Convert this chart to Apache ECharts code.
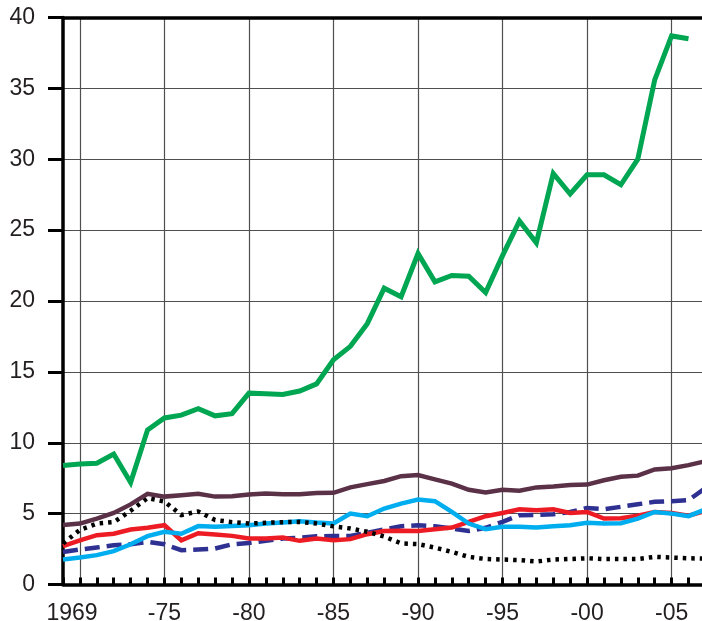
<!DOCTYPE html>
<html>
<head>
<meta charset="utf-8">
<script src="https://cdn.jsdelivr.net/npm/echarts@6/dist/echarts.min.js"></script>
<style>
html,body{margin:0;padding:0;background:#fff;}
#chart{width:702px;height:621px;}
</style>
</head>
<body>
<div id="chart"></div>
<script>
var years = ['1969','1970','1971','1972','1973','1974','1975','1976','1977','1978','1979','1980','1981','1982','1983','1984','1985','1986','1987','1988','1989','1990','1991','1992','1993','1994','1995','1996','1997','1998','1999','2000','2001','2002','2003','2004','2005','2006','2007'];

var greenSeries = [8.4, 8.5, 8.55, 9.2, 7.2, 10.9, 11.75, 11.95, 12.4, 11.9, 12.05, 13.5, 13.45, 13.4, 13.65, 14.15, 15.85, 16.8, 18.4, 20.9, 20.3, 23.35, 21.35, 21.8, 21.75, 20.6, 23.2, 25.65, 24.1, 29.0, 27.55, 28.9, 28.9, 28.2, 30.0, 35.6, 38.7, 38.5, null];

var purpleSeries = [4.2, 4.3, 4.65, 5.05, 5.65, 6.4, 6.2, 6.3, 6.4, 6.2, 6.23, 6.35, 6.42, 6.37, 6.37, 6.45, 6.47, 6.85, 7.08, 7.3, 7.64, 7.72, 7.42, 7.12, 6.68, 6.5, 6.68, 6.62, 6.85, 6.92, 7.02, 7.05, 7.35, 7.6, 7.68, 8.12, 8.2, 8.42, 8.7];

var dottedSeries = [2.9, 3.85, 4.3, 4.4, 5.2, 6.1, 5.85, 4.9, 5.15, 4.55, 4.4, 4.3, 4.35, 4.4, 4.42, 4.3, 4.1, 3.95, 3.72, 3.38, 2.9, 2.85, 2.6, 2.3, 1.95, 1.8, 1.76, 1.72, 1.62, 1.76, 1.8, 1.85, 1.8, 1.8, 1.8, 1.95, 1.9, 1.85, 1.82];

var redSeries = [2.7, 3.12, 3.48, 3.58, 3.88, 4.0, 4.18, 3.12, 3.62, 3.53, 3.43, 3.24, 3.24, 3.32, 3.08, 3.24, 3.12, 3.2, 3.55, 3.78, 3.8, 3.78, 3.9, 4.02, 4.42, 4.82, 5.05, 5.3, 5.24, 5.3, 5.05, 5.12, 4.65, 4.68, 4.85, 5.12, 5.05, 4.85, 5.2];

var blueSeries = [1.76, 1.9, 2.07, 2.35, 2.84, 3.41, 3.72, 3.58, 4.12, 4.07, 4.12, 4.18, 4.3, 4.37, 4.47, 4.37, 4.3, 5.0, 4.82, 5.36, 5.71, 6.0, 5.88, 5.12, 4.3, 3.9, 4.07, 4.07, 4.02, 4.11, 4.18, 4.35, 4.3, 4.32, 4.65, 5.12, 5.0, 4.82, 5.3];

var dashedSeries = [2.3, 2.47, 2.61, 2.77, 2.84, 3.0, 2.84, 2.42, 2.47, 2.54, 2.84, 2.93, 3.08, 3.24, 3.3, 3.4, 3.42, 3.42, 3.64, 3.88, 4.11, 4.18, 4.11, 3.95, 3.78, 4.0, 4.42, 4.89, 4.9, 4.96, 5.12, 5.4, 5.31, 5.48, 5.66, 5.83, 5.88, 5.95, 6.8];

var yTicks = ['0','5','10','15','20','25','30','35','40'];

var chart = echarts.init(document.getElementById('chart'), null, {renderer: 'canvas'});

var FONT = 'Liberation Sans, Arial, Helvetica, sans-serif';
var TEXT = '#231f20';
var GRID = '#4f4f4f';

function line(data, color, width, type, z) {
  return {
    type: 'line', data: data, symbol: 'none', z: z,
    connectNulls: false,
    lineStyle: {color: color, width: width, type: type || 'solid', cap: 'butt', join: 'miter'},
    emphasis: {disabled: true}
  };
}

chart.setOption({
  animation: false,
  backgroundColor: '#ffffff',
  grid: {left: 63, right: -3.4, top: 17.5, bottom: 36.5, containLabel: false, outerBoundsMode: 'none'},
  xAxis: [{
    type: 'category',
    data: years,
    boundaryGap: false,
    axisLine: {show: true, lineStyle: {color: '#000', width: 3.5}},
    axisTick: {show: true, inside: true, length: 7, interval: 0, lineStyle: {color: '#000', width: 3}},
    splitLine: {show: true, interval: function (i, v) { return Number(v) % 5 === 0; }, lineStyle: {color: GRID, width: 1.2}},
    axisLabel: {
      show: true, margin: 18, color: TEXT, fontFamily: FONT, fontSize: 23,
      interval: function (i, v) { var y = Number(v); return y === 1969 || (y % 5 === 0 && y !== 1970); },
      formatter: function (v) {
        var y = Number(v);
        if (y === 1969) return '{a|1969}';
        return '-' + String(y).slice(2);
      },
      rich: {a: {fontFamily: FONT, fontSize: 23, color: TEXT, padding: [0, 0, 0, 18]}}
    }
  }, {
    type: 'category',
    data: years,
    boundaryGap: false,
    position: 'top',
    axisLine: {show: true, lineStyle: {color: '#000', width: 3.5}},
    axisTick: {show: false},
    axisLabel: {show: false},
    splitLine: {show: false}
  }],
  yAxis: {
    type: 'value', min: 0, max: 40, interval: 5,
    axisLine: {show: true, lineStyle: {color: '#000', width: 3.5}},
    axisTick: {show: true, inside: false, length: 15, lineStyle: {color: '#000', width: 3}},
    splitLine: {show: true, lineStyle: {color: GRID, width: 1.2}},
    axisLabel: {
      margin: 28, color: TEXT, fontFamily: FONT, fontSize: 23,
      formatter: function (v) { return yTicks[v / 5]; }
    }
  },
  series: [
    line(dashedSeries, '#2e3192', 4.5, [15, 7], 2),
    line(redSeries, '#ed1c24', 4.5, 'solid', 3),
    line(blueSeries, '#00aeef', 4.5, 'solid', 4),
    line(dottedSeries, '#000000', 4.5, [3.5, 5], 5),
    line(purpleSeries, '#5b3148', 4.5, 'solid', 6),
    line(greenSeries, '#00a651', 5, 'solid', 7)
  ]
});
</script>
</body>
</html>
